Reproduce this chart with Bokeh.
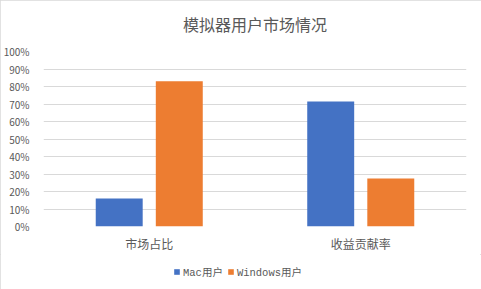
from bokeh.plotting import figure
from bokeh.layouts import column
from bokeh.models import (ColumnDataSource, FactorRange, Range1d, Legend, LegendItem,
                          NumeralTickFormatter, FixedTicker, Title)
from bokeh.transform import dodge
from bokeh.embed import file_html
from bokeh.resources import INLINE

title = "模拟器用户市场情况"
categories = ["市场占比", "收益贡献率"]
series_names = ["Mac用户", "Windows用户"]
mac_values = [0.16, 0.715]
win_values = [0.83, 0.275]
y_ticks = [0, 0.1, 0.2, 0.3, 0.4, 0.5, 0.6, 0.7, 0.8, 0.9, 1.0]

src = ColumnDataSource(dict(cat=categories, mac=mac_values, win=win_values))

FONT = "Noto Sans CJK SC"
GRAY = "#595959"
MAC_COLOR = "#4472C4"
WIN_COLOR = "#ED7D31"

p = figure(
    x_range=FactorRange(factors=categories, range_padding=0),
    y_range=Range1d(0, 1),
    frame_width=423, frame_height=175,
    output_backend="svg", toolbar_location=None,
    min_border_left=43, min_border_right=15, min_border_top=51, min_border_bottom=0,
)
p.outline_line_color = None
p.background_fill_color = "white"

spacer = Title(text=" ", text_font_size="12px", standoff=0)
main_title = Title(text=title, align="center", text_font=FONT, text_font_size="16px",
                   text_font_style="normal", text_color=GRAY, standoff=0)
p.add_layout(spacer, "above")
p.add_layout(main_title, "above")

p.vbar(x=dodge("cat", -0.142, range=p.x_range), top="mac", width=0.222,
       source=src, color=MAC_COLOR, line_color=None)
p.vbar(x=dodge("cat", 0.142, range=p.x_range), top="win", width=0.222,
       source=src, color=WIN_COLOR, line_color=None)

p.yaxis.ticker = FixedTicker(ticks=y_ticks)
p.yaxis.formatter = NumeralTickFormatter(format="0%")
p.yaxis.axis_line_color = None
p.yaxis.major_tick_line_color = None
p.yaxis.minor_tick_line_color = None
p.yaxis.major_label_text_font = FONT
p.yaxis.major_label_text_font_size = "10px"
p.yaxis.major_label_text_color = GRAY
p.yaxis.major_label_standoff = 8

p.xaxis.axis_line_color = None
p.xaxis.major_tick_line_color = None
p.xaxis.major_label_text_font = FONT
p.xaxis.major_label_text_font_size = "12px"
p.xaxis.major_label_text_color = GRAY
p.xaxis.major_label_standoff = 2

p.xgrid.grid_line_color = None
p.ygrid.grid_line_color = "#d9d9d9"
p.ygrid.ticker = FixedTicker(ticks=y_ticks)

# legend strip below the chart (same series, drawn out of view so only the legend shows)
lg = figure(
    x_range=FactorRange(factors=categories, range_padding=0),
    y_range=Range1d(2, 3),
    width=481, height=36,
    x_axis_type=None, y_axis_type=None,
    output_backend="svg", toolbar_location=None,
    min_border=0,
)
lg.outline_line_color = None
lg.grid.grid_line_color = None
l1 = lg.vbar(x="cat", top="mac", width=0.222, source=src, color=MAC_COLOR, line_color=None)
l2 = lg.vbar(x="cat", top="win", width=0.222, source=src, color=WIN_COLOR, line_color=None)

legend = Legend(items=[LegendItem(label=series_names[0], renderers=[l1]),
                       LegendItem(label=series_names[1], renderers=[l2])],
                orientation="horizontal", location=(130, 11),
                label_text_font="Liberation Mono, Noto Sans CJK SC", label_text_font_size="10.5px",
                label_text_color=GRAY, glyph_width=7, glyph_height=7, label_height=12,
                spacing=4, padding=0, margin=0, border_line_color=None,
                background_fill_alpha=0, label_standoff=3)
lg.add_layout(legend, "center")

layout = column(p, lg, spacing=0,
                styles={"outline": "1px solid #d9d9d9", "outline-offset": "-1px"})

open("out.html", "w").write(file_html(layout, INLINE))
